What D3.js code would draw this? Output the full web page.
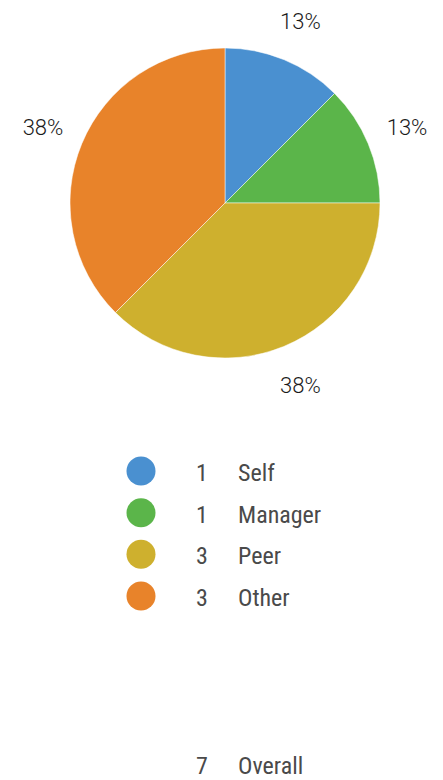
<!DOCTYPE html>
<html>
<head>
<meta charset="utf-8">
<script src="https://cdn.jsdelivr.net/npm/d3@7"></script>
<style>
  body { margin: 0; background: #fff; }
</style>
</head>
<body>
<svg></svg>
<script>
// Canvas size
var w = 443;
var h = 780;

// Chart data
var categories = ["Self", "Manager", "Peer", "Other"];
var counts = [1, 1, 3, 3];
var colors = ["#4a90d0", "#5bb54a", "#ceb02e", "#e8832a"];
var overallCount = 7;
var overallLabel = "Overall";

var total = d3.sum(counts);
var pieData = categories.map(function (c, i) {
    return { name: c, value: counts[i], color: colors[i] };
});

var svg = d3.select("svg")
    .attr("width", w)
    .attr("height", h);

// Pie
var cx = 225, cy = 203, radius = 155, labelRadius = 197;

var pie = d3.pie()
    .sort(null)
    .value(function (d) { return d.value; });

var arc = d3.arc()
    .innerRadius(0)
    .outerRadius(radius);

var labelArc = d3.arc()
    .innerRadius(labelRadius)
    .outerRadius(labelRadius);

var g = svg.append("g")
    .attr("transform", "translate(" + cx + "," + cy + ")");

var arcs = pie(pieData);

g.selectAll("path")
    .data(arcs)
    .enter().append("path")
    .attr("d", arc)
    .attr("fill", function (d) { return d.data.color; })
    .attr("stroke", "#fff")
    .attr("stroke-width", 0.5);

// Percentage labels outside slices
g.selectAll(".pct")
    .data(arcs)
    .enter().append("text")
    .attr("class", "pct")
    .attr("transform", function (d) { return "translate(" + labelArc.centroid(d) + ")"; })
    .attr("text-anchor", "middle")
    .attr("dy", "0.35em")
    .attr("font-family", "Roboto, 'Liberation Sans', sans-serif")
    .attr("font-weight", 300)
    .attr("font-size", "22px")
    .attr("fill", "#1a1a1a")
    .text(function (d) { return d3.format(".0%")(Math.round(d.data.value / total * 100) / 100); });

// Legend
var legendY = d3.scalePoint()
    .domain(categories)
    .range([471, 596]);

var legendFont = "'Liberation Sans Narrow', 'Roboto Condensed', 'Arial Narrow', sans-serif";

var legend = svg.append("g").attr("class", "legend");

var rows = legend.selectAll("g")
    .data(pieData)
    .enter().append("g")
    .attr("transform", function (d) { return "translate(0," + legendY(d.name) + ")"; });

rows.append("circle")
    .attr("cx", 141)
    .attr("cy", 0)
    .attr("r", 14.5)
    .attr("fill", function (d) { return d.color; });

rows.append("text")
    .attr("x", 196)
    .attr("y", 10)
    .attr("font-family", legendFont)
    .attr("font-size", "24px")
    .attr("fill", "#4a4a4a")
    .text(function (d) { return d.value; });

rows.append("text")
    .attr("x", 238)
    .attr("y", 10)
    .attr("font-family", legendFont)
    .attr("font-size", "24px")
    .attr("fill", "#4a4a4a")
    .text(function (d) { return d.name; });

// Overall row
svg.append("text")
    .attr("x", 196)
    .attr("y", 774)
    .attr("font-family", legendFont)
    .attr("font-size", "24px")
    .attr("fill", "#4a4a4a")
    .text(overallCount);

svg.append("text")
    .attr("x", 238)
    .attr("y", 774)
    .attr("font-family", legendFont)
    .attr("font-size", "24px")
    .attr("fill", "#4a4a4a")
    .text(overallLabel);
</script>
</body>
</html>
